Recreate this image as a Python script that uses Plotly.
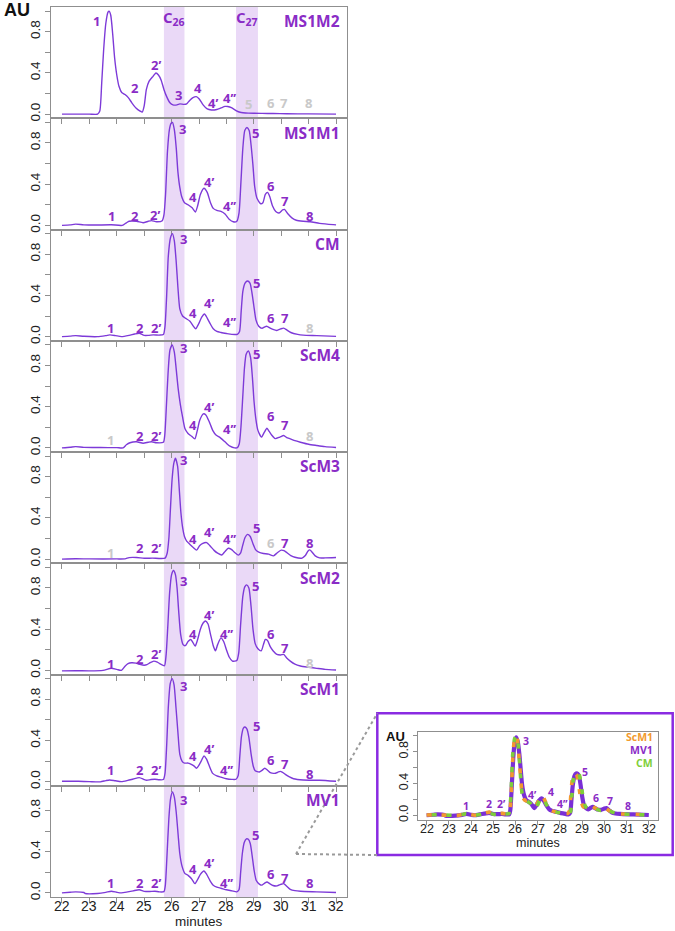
import plotly.graph_objects as go

# ---------------- data ----------------
panel_names = ["MS1M2", "MS1M1", "CM", "ScM4", "ScM3", "ScM2", "ScM1", "MV1"]

t_ms1m2 = [22.0, 22.5, 23.0, 23.3, 23.38, 23.45, 23.52, 23.6, 23.68, 23.72, 23.78, 23.85, 23.92, 24.0, 24.08,
           24.18, 24.3, 24.42, 24.55, 24.7, 24.85, 24.93, 25.0, 25.08, 25.18, 25.3, 25.43, 25.52, 25.62, 25.72,
           25.82, 25.94, 26.05, 26.2, 26.3, 26.45, 26.55, 26.65, 26.78, 26.9, 27.0, 27.15, 27.3, 27.45, 27.65,
           27.8, 27.95, 28.05, 28.2, 28.35, 28.5, 28.8, 29.3, 29.7, 30.2, 31.0, 32.0]
y_ms1m2 = [0.0, 0.0, 0.0, 0.0, 0.03, 0.3, 0.62, 0.88, 0.99, 1.0, 0.96, 0.78, 0.55, 0.38, 0.27,
           0.21, 0.19, 0.16, 0.11, 0.06, 0.03, 0.02, 0.08, 0.24, 0.32, 0.36, 0.40, 0.38, 0.33, 0.24,
           0.17, 0.11, 0.09, 0.09, 0.10, 0.095, 0.10, 0.13, 0.16, 0.17, 0.15, 0.09, 0.05, 0.04, 0.045,
           0.06, 0.075, 0.074, 0.06, 0.035, 0.018, 0.01, 0.007, 0.006, 0.004, 0.002, 0.0]

t_ms1m1 = [22.0, 22.3, 22.5, 22.8, 23.2, 23.8, 24.2, 24.35, 24.45, 24.72, 24.96, 25.15, 25.27, 25.45, 25.66,
           25.72, 25.78, 25.85, 25.92, 25.98, 26.03, 26.1, 26.17, 26.23, 26.3, 26.38, 26.47, 26.6, 26.75, 26.87,
           26.95, 27.05, 27.18, 27.3, 27.42, 27.52, 27.65, 27.8, 27.95, 28.1, 28.25, 28.38, 28.46, 28.53, 28.6,
           28.67, 28.75, 28.83, 28.9, 28.97, 29.03, 29.12, 29.25, 29.33, 29.42, 29.5, 29.58, 29.68, 29.8, 29.92,
           30.05, 30.12, 30.25, 30.4, 30.55, 30.8, 31.06, 31.4, 31.9, 32.0]
y_ms1m1 = [0.0, 0.005, 0.012, 0.005, 0.003, 0.006, 0.0, 0.025, 0.04, 0.04, 0.026, 0.04, 0.046, 0.035, 0.045,
           0.1, 0.3, 0.72, 0.93, 0.99, 1.0, 0.93, 0.75, 0.52, 0.37, 0.27, 0.22, 0.2, 0.17, 0.13,
           0.19, 0.3, 0.36, 0.32, 0.22, 0.165, 0.145, 0.135, 0.11, 0.06, 0.035, 0.04, 0.12, 0.42, 0.75,
           0.92, 0.95, 0.92, 0.78, 0.58, 0.38, 0.26, 0.21, 0.22, 0.3, 0.32, 0.28, 0.19, 0.135, 0.12,
           0.15, 0.155, 0.11, 0.07, 0.05, 0.04, 0.035, 0.02, 0.007, 0.005]

t_cm = [22.0, 22.3, 22.5, 22.8, 23.3, 23.6, 23.75, 23.95, 24.17, 24.45, 24.65, 24.82, 25.0, 25.15, 25.33,
        25.55, 25.7, 25.76, 25.82, 25.88, 25.96, 26.03, 26.1, 26.17, 26.23, 26.3, 26.4, 26.5, 26.67, 26.8,
        26.88, 26.98, 27.1, 27.2, 27.3, 27.42, 27.52, 27.65, 27.8, 28.0, 28.2, 28.4, 28.48, 28.54, 28.6,
        28.68, 28.77, 28.86, 28.93, 29.0, 29.08, 29.18, 29.3, 29.4, 29.48, 29.58, 29.7, 29.84, 29.98, 30.09,
        30.2, 30.35, 30.6, 30.8, 31.3, 32.0]
y_cm = [0.0, 0.005, 0.01, 0.003, 0.0, 0.01, 0.017, 0.01, 0.0, 0.012, 0.025, 0.033, 0.012, 0.012, 0.017,
        0.015, 0.02, 0.1, 0.4, 0.78, 0.96, 1.0, 0.93, 0.72, 0.48, 0.27, 0.2, 0.18, 0.15, 0.1,
        0.076, 0.12, 0.19, 0.22, 0.18, 0.12, 0.076, 0.05, 0.04, 0.03, 0.022, 0.023, 0.05, 0.25, 0.44,
        0.52, 0.54, 0.52, 0.43, 0.3, 0.16, 0.1, 0.08, 0.095, 0.1, 0.085, 0.07, 0.06, 0.075, 0.083,
        0.065, 0.04, 0.022, 0.015, 0.01, 0.002]

t_scm4 = [22.0, 22.3, 22.5, 22.8, 23.4, 24.0, 24.23, 24.35, 24.48, 24.72, 24.96, 25.15, 25.27, 25.45, 25.7,
          25.75, 25.8, 25.87, 25.94, 26.02, 26.1, 26.17, 26.24, 26.32, 26.4, 26.49, 26.6, 26.72, 26.85, 26.93,
          27.03, 27.16, 27.25, 27.38, 27.5, 27.62, 27.75, 27.88, 28.0, 28.13, 28.3, 28.4, 28.47, 28.53, 28.6,
          28.66, 28.72, 28.8, 28.88, 28.95, 29.01, 29.08, 29.15, 29.28, 29.38, 29.48, 29.56, 29.65, 29.78, 29.95,
          30.09, 30.2, 30.33, 30.5, 30.7, 31.0, 31.3, 31.6, 32.0]
y_scm4 = [0.0, 0.006, 0.012, 0.005, 0.003, 0.002, 0.0, 0.03, 0.05, 0.06, 0.045, 0.055, 0.06, 0.05, 0.055,
          0.12, 0.35, 0.72, 0.95, 1.0, 0.93, 0.76, 0.575, 0.42, 0.3, 0.185, 0.14, 0.115, 0.088, 0.16,
          0.27, 0.33, 0.32, 0.25, 0.17, 0.125, 0.105, 0.075, 0.045, 0.016, 0.0, 0.002, 0.04, 0.2, 0.51,
          0.78, 0.91, 0.94, 0.88, 0.68, 0.445, 0.27, 0.17, 0.104, 0.15, 0.19, 0.16, 0.125, 0.09, 0.105,
          0.12, 0.1, 0.088, 0.07, 0.055, 0.035, 0.023, 0.012, 0.003]

t_scm3 = [22.0, 22.5, 23.0, 24.0, 24.3, 24.45, 24.72, 25.0, 25.3, 25.76, 25.84, 25.9, 25.96, 26.02, 26.08,
          26.14, 26.22, 26.28, 26.34, 26.4, 26.47, 26.55, 26.68, 26.8, 26.91, 27.02, 27.12, 27.28, 27.4, 27.55,
          27.68, 27.83, 27.95, 28.07, 28.18, 28.3, 28.44, 28.52, 28.6, 28.68, 28.77, 28.87, 28.97, 29.07, 29.2,
          29.35, 29.54, 29.72, 29.85, 30.0, 30.1, 30.22, 30.35, 30.5, 30.76, 30.88, 30.98, 31.04, 31.12, 31.24,
          31.4, 31.6, 32.0]
y_scm3 = [0.0, 0.004, 0.002, 0.002, 0.003, 0.015, 0.016, 0.008, 0.01, 0.01, 0.06, 0.2, 0.5, 0.78, 0.93,
          0.98, 0.9, 0.68, 0.45, 0.31, 0.22, 0.175, 0.14, 0.11, 0.087, 0.13, 0.15, 0.16, 0.13, 0.085,
          0.058, 0.04, 0.075, 0.106, 0.095, 0.065, 0.039, 0.06, 0.14, 0.21, 0.24, 0.22, 0.15, 0.09, 0.065,
          0.055, 0.048, 0.032, 0.06, 0.087, 0.082, 0.06, 0.035, 0.018, 0.01, 0.035, 0.08, 0.09, 0.07, 0.032,
          0.012, 0.012, 0.016]

t_scm2 = [22.0, 22.5, 23.0, 23.5, 23.8, 24.0, 24.17, 24.3, 24.41, 24.54, 24.7, 24.84, 25.0, 25.1, 25.22,
          25.35, 25.48, 25.6, 25.74, 25.8, 25.86, 25.93, 26.0, 26.07, 26.14, 26.2, 26.26, 26.33, 26.42, 26.5,
          26.6, 26.7, 26.78, 26.86, 26.95, 27.05, 27.15, 27.24, 27.33, 27.42, 27.52, 27.6, 27.68, 27.8, 27.9,
          28.0, 28.1, 28.22, 28.38, 28.45, 28.52, 28.6, 28.67, 28.74, 28.82, 28.9, 28.97, 29.05, 29.15, 29.27,
          29.35, 29.42, 29.5, 29.6, 29.7, 29.84, 29.98, 30.09, 30.2, 30.33, 30.5, 30.7, 31.0, 31.3, 31.6, 32.0]
y_scm2 = [-0.005, -0.003, -0.005, 0.0, 0.02, 0.01, 0.0, 0.04, 0.065, 0.074, 0.07, 0.058, 0.05, 0.055, 0.075,
          0.09, 0.08, 0.06, 0.045, 0.15, 0.42, 0.76, 0.93, 0.97, 0.93, 0.8, 0.57, 0.35, 0.25, 0.24,
          0.28, 0.3, 0.27, 0.235, 0.3, 0.4, 0.46, 0.48, 0.45, 0.35, 0.24, 0.19, 0.25, 0.316, 0.28,
          0.2, 0.13, 0.09, 0.095, 0.17, 0.45, 0.72, 0.81, 0.83, 0.8, 0.62, 0.4, 0.26, 0.21, 0.19,
          0.25, 0.3, 0.29, 0.23, 0.19, 0.155, 0.15, 0.155, 0.12, 0.09, 0.06, 0.042, 0.03, 0.02, 0.01, 0.003]

t_scm1 = [22.0, 22.3, 22.6, 23.0, 23.4, 23.6, 23.74, 23.95, 24.17, 24.4, 24.6, 24.82, 25.0, 25.09, 25.25,
          25.39, 25.55, 25.7, 25.76, 25.82, 25.88, 25.95, 26.02, 26.09, 26.16, 26.23, 26.3, 26.38, 26.47, 26.6,
          26.7, 26.8, 26.91, 27.0, 27.1, 27.18, 27.27, 27.38, 27.5, 27.65, 27.8, 28.0, 28.2, 28.35, 28.43,
          28.49, 28.55, 28.62, 28.68, 28.75, 28.82, 28.9, 28.98, 29.05, 29.2, 29.3, 29.4, 29.5, 29.6, 29.75,
          29.87, 29.96, 30.05, 30.15, 30.3, 30.45, 30.8, 31.4, 32.0]
y_scm1 = [0.003, 0.004, 0.003, 0.0, -0.002, 0.01, 0.016, 0.008, 0.0, 0.012, 0.025, 0.039, 0.02, 0.013, 0.02,
          0.023, 0.018, 0.02, 0.08, 0.35, 0.72, 0.95, 1.0, 0.94, 0.72, 0.48, 0.265, 0.2, 0.18, 0.18,
          0.17, 0.155, 0.13, 0.16, 0.21, 0.25, 0.22, 0.15, 0.08, 0.055, 0.043, 0.028, 0.022, 0.023, 0.06,
          0.25, 0.44, 0.52, 0.53, 0.51, 0.43, 0.27, 0.15, 0.105, 0.094, 0.11, 0.13, 0.11, 0.087, 0.08,
          0.09, 0.1, 0.09, 0.07, 0.045, 0.028, 0.016, 0.013, 0.003]

t_mv1 = [22.0, 22.3, 22.5, 22.8, 22.85, 23.3, 23.6, 23.8, 24.0, 24.17, 24.4, 24.6, 24.82, 25.0, 25.2,
         25.39, 25.55, 25.72, 25.77, 25.83, 25.9, 25.96, 26.03, 26.1, 26.17, 26.24, 26.3, 26.38, 26.49, 26.6,
         26.72, 26.85, 26.95, 27.05, 27.18, 27.28, 27.4, 27.52, 27.65, 27.8, 28.0, 28.2, 28.38, 28.46, 28.52,
         28.58, 28.65, 28.73, 28.8, 28.87, 28.94, 29.01, 29.09, 29.2, 29.3, 29.4, 29.48, 29.58, 29.7, 29.85,
         29.98, 30.09, 30.2, 30.33, 30.5, 30.7, 31.3, 32.0]
y_mv1 = [0.0, 0.006, 0.01, 0.004, -0.006, -0.006, 0.005, 0.016, 0.006, 0.0, 0.01, 0.02, 0.03, 0.015, 0.013,
         0.016, 0.01, 0.012, 0.07, 0.35, 0.72, 0.91, 0.98, 0.93, 0.78, 0.56, 0.38, 0.26, 0.187, 0.17,
         0.14, 0.09, 0.13, 0.18, 0.213, 0.18, 0.12, 0.074, 0.055, 0.045, 0.03, 0.02, 0.01, 0.03, 0.2,
         0.38, 0.49, 0.525, 0.52, 0.48, 0.36, 0.22, 0.12, 0.085, 0.075, 0.095, 0.106, 0.09, 0.072, 0.068,
         0.082, 0.09, 0.065, 0.035, 0.022, 0.016, 0.01, 0.003]

panel_t = [t_ms1m2, t_ms1m1, t_cm, t_scm4, t_scm3, t_scm2, t_scm1, t_mv1]
panel_y = [y_ms1m2, y_ms1m1, y_cm, y_scm4, y_scm3, y_scm2, y_scm1, y_mv1]

# peak labels: (text, minute, AU, present?)
lab_ms1m2 = [("1", 23.26, 0.90, 1), ("2", 24.66, 0.25, 1), ("2’", 25.43, 0.48, 1), ("3", 26.27, 0.19, 1),
             ("4", 26.98, 0.25, 1), ("4’", 27.52, 0.11, 1), ("4’’", 28.13, 0.155, 1), ("5", 28.8, 0.10, 0),
             ("6", 29.62, 0.11, 0), ("7", 30.11, 0.11, 0), ("8", 31.0, 0.11, 0)]
lab_ms1m1 = [("1", 23.8, 0.09, 1), ("2", 24.66, 0.095, 1), ("2’", 25.39, 0.105, 1), ("3", 26.4, 0.94, 1),
             ("4", 26.79, 0.275, 1), ("4’", 27.38, 0.42, 1), ("4’’", 28.11, 0.19, 1), ("5", 29.07, 0.90, 1),
             ("6", 29.62, 0.38, 1), ("7", 30.15, 0.24, 1), ("8", 31.04, 0.09, 1)]
lab_cm = [("1", 23.78, 0.083, 1), ("2", 24.84, 0.083, 1), ("2’", 25.43, 0.083, 1), ("3", 26.43, 0.95, 1),
          ("4", 26.79, 0.225, 1), ("4’", 27.38, 0.33, 1), ("4’’", 28.13, 0.14, 1), ("5", 29.09, 0.52, 1),
          ("6", 29.62, 0.18, 1), ("7", 30.12, 0.18, 1), ("8", 31.02, 0.083, 0)]
lab_scm4 = [("1", 23.78, 0.078, 0), ("2", 24.84, 0.114, 1), ("2’", 25.43, 0.114, 1), ("3", 26.43, 0.97, 1),
            ("4", 26.79, 0.22, 1), ("4’", 27.38, 0.40, 1), ("4’’", 28.13, 0.185, 1), ("5", 29.09, 0.915, 1),
            ("6", 29.62, 0.31, 1), ("7", 30.15, 0.22, 1), ("8", 31.02, 0.12, 0)]
lab_scm3 = [("1", 23.78, 0.058, 0), ("2", 24.84, 0.106, 1), ("2’", 25.43, 0.106, 1), ("3", 26.43, 0.96, 1),
            ("4", 26.79, 0.20, 1), ("4’", 27.38, 0.26, 1), ("4’’", 28.11, 0.20, 1), ("5", 29.09, 0.30, 1),
            ("6", 29.62, 0.16, 0), ("7", 30.12, 0.16, 1), ("8", 31.04, 0.16, 1)]
lab_scm2 = [("1", 23.78, 0.065, 1), ("2", 24.84, 0.113, 1), ("2’", 25.43, 0.155, 1), ("3", 26.43, 0.865, 1),
            ("4", 26.79, 0.35, 1), ("4’", 27.38, 0.54, 1), ("4’’", 27.99, 0.35, 1), ("5", 29.07, 0.816, 1),
            ("6", 29.62, 0.35, 1), ("7", 30.12, 0.22, 1), ("8", 31.02, 0.074, 0)]
lab_scm1 = [("1", 23.78, 0.11, 1), ("2", 24.84, 0.11, 1), ("2’", 25.43, 0.11, 1), ("3", 26.43, 0.93, 1),
            ("4", 26.79, 0.25, 1), ("4’", 27.38, 0.32, 1), ("4’’", 27.99, 0.11, 1), ("5", 29.09, 0.54, 1),
            ("6", 29.62, 0.21, 1), ("7", 30.12, 0.17, 1), ("8", 31.04, 0.07, 1)]
lab_mv1 = [("1", 23.78, 0.097, 1), ("2", 24.84, 0.097, 1), ("2’", 25.43, 0.097, 1), ("3", 26.43, 0.90, 1),
           ("4", 26.79, 0.235, 1), ("4’", 27.38, 0.29, 1), ("4’’", 27.99, 0.097, 1), ("5", 29.07, 0.565, 1),
           ("6", 29.62, 0.187, 1), ("7", 30.12, 0.145, 1), ("8", 31.04, 0.097, 1)]
panel_labels = [lab_ms1m2, lab_ms1m1, lab_cm, lab_scm4, lab_scm3, lab_scm2, lab_scm1, lab_mv1]

inset_labels = [("1", 23.77, 0.118), ("2", 24.81, 0.147), ("2’", 25.37, 0.147), ("3", 26.47, 0.93),
                ("4’", 26.77, 0.26), ("4", 27.6, 0.29), ("4’’", 28.12, 0.147), ("5", 29.14, 0.54),
                ("6", 29.64, 0.22), ("7", 30.27, 0.18), ("8", 31.05, 0.118)]
inset_legend = [("ScM1", 0.98, "#f29a2e"), ("MV1", 0.82, "#8a2cc6"), ("CM", 0.66, "#7fcf3a")]

bands = [(25.72, 26.47, "C<sub>26</sub>"), (28.35, 29.15, "C<sub>27</sub>")]
x_ticks = [22, 23, 24, 25, 26, 27, 28, 29, 30, 31, 32]
y_ticks = [0.0, 0.4, 0.8]
y_ticktext = ["0.0", "0.4", "0.8"]

# ---------------- styling ----------------
W, H = 675, 931
ML, MR, MT, MB = 51, 2, 7, 34
PW, PH = W - ML - MR, H - MT - MB


def pxx(p):
    return (p - ML) / PW


def pxy(p):
    return (H - MB - p) / PH


LINE = "#7d3ad8"
TXT = "#8a2cc6"
GREY_TXT = "#c9c9c9"
SHADE = "#ead9f7"
AXC = "#8f8f8f"
TICKF = dict(family="Liberation Sans, Arial", size=13.5, color="#222")
XTF = dict(family="Liberation Sans, Arial", size=14, color="#222")
LABF = "Open Sans, Lato, sans-serif"
XR = [21.6, 32.4]
YR = [-0.04, 1.04]
MINOR = dict(tick0=0, dtick=0.2, ticks="outside", ticklen=5, tickcolor=AXC)

fig = go.Figure()
layout = dict(width=W, height=H, margin=dict(l=ML, r=MR, t=MT, b=MB),
              paper_bgcolor="white", plot_bgcolor="rgba(0,0,0,0)", showlegend=False)

annotations = []
shapes = []
n = len(panel_names)
xd_main = [0, pxx(347)]
for i in range(n):
    k = i + 1
    sfx = "" if k == 1 else str(k)
    fig.add_trace(go.Scatter(x=panel_t[i], y=panel_y[i], mode="lines",
                             line=dict(color=LINE, width=1.4, shape="spline", smoothing=0.6),
                             xaxis="x" + sfx, yaxis="y" + sfx, hoverinfo="skip"))
    layout["xaxis" + sfx] = dict(domain=xd_main, anchor="y" + sfx, range=XR, showgrid=False, zeroline=False,
                                 showline=True, mirror=True, linecolor=AXC, linewidth=1,
                                 tickvals=x_ticks, ticks="outside", ticklen=5, tickcolor=AXC,
                                 showticklabels=False)
    layout["yaxis" + sfx] = dict(domain=[1 - (i + 1) / n, 1 - i / n], anchor="x" + sfx, range=YR,
                                 showgrid=False, zeroline=False, showline=True, mirror=True,
                                 linecolor=AXC, linewidth=1, tickvals=y_ticks, ticktext=y_ticktext,
                                 ticks="outside", ticklen=5, tickcolor=AXC, tickangle=-90, tickfont=TICKF,
                                 minor=MINOR)
    # panel name
    annotations.append(dict(x=32.22, y=0.9, xref="x" + sfx, yref="y" + sfx, text=panel_names[i],
                            showarrow=False, xanchor="right", yanchor="middle",
                            font=dict(family=LABF, size=15.5, color=TXT, weight="bold")))
    for (txt, tx, ty, present) in panel_labels[i]:
        annotations.append(dict(x=tx, y=ty, xref="x" + sfx, yref="y" + sfx, text=txt, showarrow=False,
                                xanchor="center", yanchor="middle",
                                font=dict(family=LABF, size=13, color=TXT if present else GREY_TXT,
                                          weight="bold")))

# x tick labels of the bottom panel, tight under the axis as in the reference
last_x = "x" + str(n)
for tv in x_ticks:
    annotations.append(dict(x=tv, y=pxy(906), xref=last_x, yref="paper", text=str(tv), showarrow=False,
                            xanchor="center", yanchor="middle", font=XTF))

# shaded bands through all panels
for (b0, b1, btxt) in bands:
    shapes.append(dict(type="rect", xref="x", yref="paper", x0=b0, x1=b1, y0=0, y1=1,
                       fillcolor=SHADE, line=dict(width=0), layer="below"))
    annotations.append(dict(x=(b0 + b1) / 2, y=0.93, xref="x", yref="y", text=btxt, showarrow=False,
                            xanchor="center", yanchor="middle",
                            font=dict(family=LABF, size=15, color=TXT, weight="bold")))

annotations.append(dict(x=pxx(2), y=pxy(10), xref="paper", yref="paper", text="<b>AU</b>", showarrow=False,
                        xanchor="left", yanchor="middle",
                        font=dict(family="Liberation Sans, Arial", size=18, color="#111")))
annotations.append(dict(x=pxx(199), y=pxy(931), xref="paper", yref="paper", text="minutes", showarrow=False,
                        xanchor="center", yanchor="bottom",
                        font=dict(family="Liberation Sans, Arial", size=13.5, color="#222")))

# ---------------- inset ----------------
inset_series = [(t_mv1, y_mv1, "#7a2fd6", "solid", 4.2),
                (t_scm1, y_scm1, "#f29a2e", "5px,10px", 3.6),
                (t_cm, y_cm, "#7fcf3a", "0px,5px,5px,5px", 3.6)]
for (tt, yy, col, dash, wd) in inset_series:
    fig.add_trace(go.Scatter(x=tt, y=yy, mode="lines",
                             line=dict(color=col, width=wd, dash=dash, shape="spline", smoothing=0.6),
                             xaxis="x9", yaxis="y9", hoverinfo="skip"))

IF = dict(family="Liberation Sans, Arial", size=12.5, color="#222")
layout["xaxis9"] = dict(domain=[pxx(417.7), pxx(657.7)], anchor="y9", range=XR, showgrid=False, zeroline=False,
                        showline=True, mirror=True, linecolor=AXC, linewidth=1, tickvals=x_ticks,
                        ticks="outside", ticklen=4, tickcolor=AXC, showticklabels=False)
layout["yaxis9"] = dict(domain=[pxy(820), pxy(731.7)], anchor="x9", range=[-0.06, 1.05], showgrid=False,
                        zeroline=False, showline=True, mirror=True, linecolor=AXC, linewidth=1,
                        tickvals=y_ticks, ticktext=y_ticktext, ticks="outside", ticklen=4, tickcolor=AXC,
                        tickangle=-90, tickfont=IF, minor=dict(MINOR, ticklen=4))
for tv in x_ticks:
    annotations.append(dict(x=tv, y=pxy(828.5), xref="x9", yref="paper", text=str(tv), showarrow=False,
                            xanchor="center", yanchor="middle", font=IF))

shapes.append(dict(type="rect", xref="paper", yref="paper", x0=pxx(377.3), x1=pxx(672.7),
                   y0=pxy(855), y1=pxy(713.3), line=dict(color="#8a2be2", width=2.5), layer="above"))
for ty in (713.3, 855):
    shapes.append(dict(type="line", xref="paper", yref="paper", x0=pxx(296), y0=pxy(854),
                       x1=pxx(377.3), y1=pxy(ty), line=dict(color="#9a9a9a", width=2, dash="dot")))

for (txt, tx, ty) in inset_labels:
    annotations.append(dict(x=tx, y=ty, xref="x9", yref="y9", text=txt, showarrow=False,
                            xanchor="center", yanchor="middle",
                            font=dict(family=LABF, size=10.5, color=TXT, weight="bold")))
for (txt, ty, col) in inset_legend:
    annotations.append(dict(x=32.3, y=ty, xref="x9", yref="y9", text=txt, showarrow=False,
                            xanchor="right", yanchor="middle",
                            font=dict(family=LABF, size=10.5, color=col, weight="bold")))
annotations.append(dict(x=pxx(395.5), y=pxy(736.5), xref="paper", yref="paper", text="<b>AU</b>",
                        showarrow=False, xanchor="center", yanchor="middle",
                        font=dict(family="Liberation Sans, Arial", size=13, color="#111")))
annotations.append(dict(x=pxx(537.7), y=pxy(843), xref="paper", yref="paper", text="minutes",
                        showarrow=False, xanchor="center", yanchor="middle",
                        font=dict(family="Liberation Sans, Arial", size=12.5, color="#222")))

layout["annotations"] = annotations
layout["shapes"] = shapes
fig.update_layout(**layout)
fig.write_html("out.html", config={"displayModeBar": False},
               post_script="document.body.style.margin='0px';")
